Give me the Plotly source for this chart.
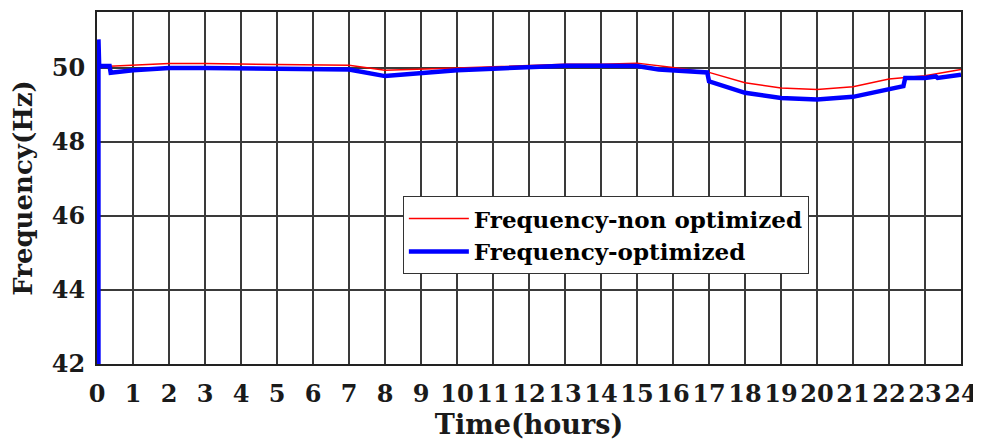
import plotly.graph_objects as go

# hours / Hz
t_nonopt = [0.05, 1, 2, 3, 4, 5, 6, 7, 8, 9, 10, 11, 12, 13, 14, 15, 16, 17,
            18, 19, 20, 21, 22, 23, 24]
f_nonopt = [50.02, 50.06, 50.11, 50.11, 50.1, 50.08, 50.06, 50.06, 49.93, 49.95,
            49.99, 50.02, 50.06, 50.09, 50.09, 50.12, 50.0, 49.87, 49.59, 49.45,
            49.41, 49.48, 49.69, 49.78, 49.95]

t_opt = [0.04, 0.04, 0.06, 0.35, 0.38, 1, 2, 3, 4, 5, 6, 7, 8, 9, 10, 11, 12,
         13, 14, 15, 15.6, 16, 16.95, 17.0, 18, 19, 20, 21, 22, 22.4, 22.45,
         23, 23.3, 23.35, 24]
f_opt = [42, 50.76, 50.04, 50.04, 49.86, 49.93, 49.99, 49.99, 49.98, 49.96,
         49.93, 49.95, 49.77, 49.86, 49.93, 49.97, 50.02, 50.05, 50.05, 50.04,
         49.95, 49.93, 49.87, 49.63, 49.32, 49.18, 49.14, 49.21, 49.41, 49.5,
         49.72, 49.72, 49.76, 49.72, 49.81]

hour_ticks = list(range(0, 25))
freq_ticks = [42, 44, 46, 48, 50]

FONT = "DejaVu Serif"

fig = go.Figure()
fig.add_trace(go.Scatter(
    x=t_nonopt, y=f_nonopt, mode="lines",
    name="<b>Frequency-non optimized</b>",
    line=dict(color="#ff0000", width=1.5),
))
fig.add_trace(go.Scatter(
    x=t_opt, y=f_opt, mode="lines",
    name="<b>Frequency-optimized</b>",
    line=dict(color="#0000ff", width=4.5),
))

# page body adds ~8px around the figure, so size it a bit smaller
fig.update_layout(
    width=973,
    height=432,
    margin=dict(l=89, r=20, t=4, b=76),
    paper_bgcolor="white",
    plot_bgcolor="white",
    font=dict(family=FONT, color="#1a1a1a", size=24),
    showlegend=True,
    legend=dict(
        x=0.354, y=0.477, xanchor="left", yanchor="top",
        bgcolor="white", bordercolor="#333333", borderwidth=1,
        font=dict(family=FONT, size=23, color="black"),
        tracegroupgap=0, itemwidth=60,
    ),
    xaxis=dict(
        range=[0, 24],
        tickmode="array", tickvals=hour_ticks,
        ticktext=[f"<b>{h}</b>" for h in hour_ticks],
        showgrid=True, gridcolor="#3a3a3a", gridwidth=2,
        showline=True, linecolor="#222222", linewidth=2, mirror=True,
        zeroline=False, ticks="", ticklabelstandoff=7, automargin=False,
        ticklabeloverflow="allow",
        tickfont=dict(family=FONT, size=24),
        title=dict(text="<b>Time(hours)</b>",
                   font=dict(family=FONT, size=27)),
    ),
    yaxis=dict(
        range=[42, 51.5],
        tickmode="array", tickvals=freq_ticks,
        ticktext=[f"<b>{v}</b>" for v in freq_ticks],
        showgrid=True, gridcolor="#3a3a3a", gridwidth=1.5,
        showline=True, linecolor="#222222", linewidth=2, mirror=True,
        zeroline=False, ticks="", ticklabelstandoff=5, automargin=False,
        tickfont=dict(family=FONT, size=24),
        title=dict(text="<b>Frequency(Hz)</b>",
                   font=dict(family=FONT, size=26)),
    ),
)

fig.write_html("out.html")
